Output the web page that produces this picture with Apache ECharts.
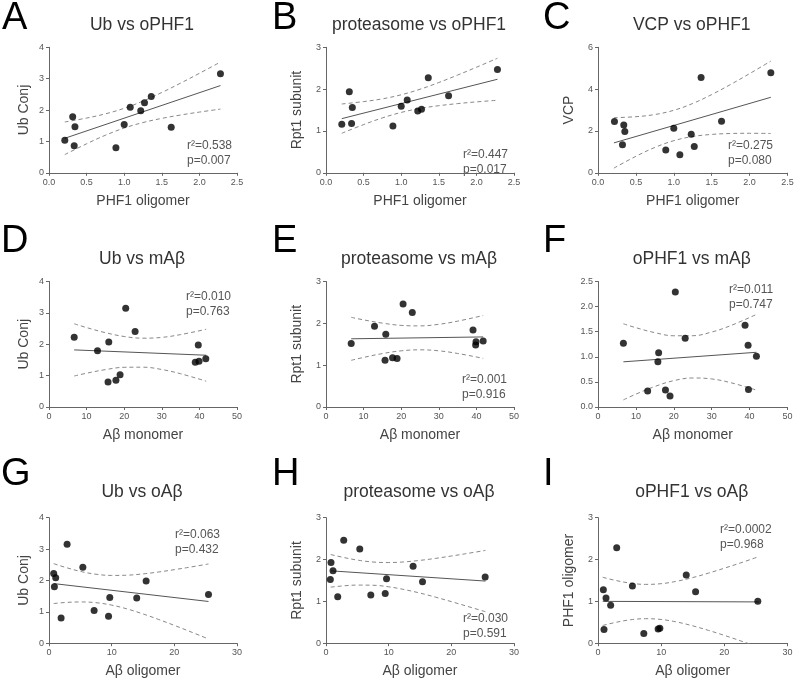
<!DOCTYPE html>
<html>
<head>
<meta charset="utf-8">
<script src="https://cdn.jsdelivr.net/npm/echarts@6/dist/echarts.min.js"></script>
<style>html,body{margin:0;padding:0;background:#fff}#chart{width:800px;height:683px}</style>
</head>
<body>
<div id="chart"></div>
<script>
// ---- Panel A: Ub vs oPHF1 ----
const A_x = [0.21,0.315,0.335,0.345,0.89,1.00,1.08,1.22,1.27,1.36,1.625,2.28];
const A_y = [1.04,1.79,0.86,1.47,0.80,1.54,2.09,1.98,2.23,2.43,1.45,3.16];
const A_fitX = [0.21,2.28];
const A_fitY = [1.10,2.78];
const row1_bandX = [0.21,0.5,0.75,1.0,1.25,1.5,1.75,2.0,2.28];
const A_upper = [1.62,1.745,1.879,2.056,2.286,2.56,2.858,3.171,3.529];
const A_lower = [0.58,0.925,1.197,1.426,1.602,1.734,1.842,1.935,2.031];
// ---- Panel B: proteasome vs oPHF1 ----
const B_x = [0.21,0.31,0.34,0.35,0.89,1.00,1.08,1.22,1.27,1.36,1.63,2.28];
const B_y = [1.16,1.94,1.18,1.56,1.12,1.59,1.74,1.48,1.52,2.27,1.84,2.47];
const B_fitX = [0.21,2.28];
const B_fitY = [1.295,2.236];
const B_upper = [1.645,1.702,1.768,1.865,1.997,2.158,2.336,2.523,2.738];
const B_lower = [0.945,1.152,1.312,1.443,1.539,1.604,1.654,1.695,1.734];
// ---- Panel C: VCP vs oPHF1 ----
const C_x = [0.217,0.34,0.354,0.323,0.894,1.00,1.08,1.23,1.27,1.36,1.63,2.28];
const C_y = [2.45,2.29,1.98,1.34,1.09,2.13,0.86,1.84,1.26,4.56,2.46,4.78];
const C_fitX = [0.21,2.28];
const C_fitY = [1.43,3.61];
const C_upper = [2.635,2.682,2.786,2.989,3.315,3.741,4.225,4.741,5.34];
const C_lower = [0.225,0.788,1.212,1.535,1.735,1.835,1.879,1.889,1.88];
// ---- Panel D: Ub vs mAβ ----
const D_x = [6.7,12.9,15.9,15.7,17.8,18.9,20.4,22.9,39.7,38.9,39.9,41.7];
const D_y = [2.22,1.79,2.07,0.80,0.85,1.03,3.15,2.41,1.98,1.43,1.46,1.54];
const D_fitX = [6.7,41.8];
const D_fitY = [1.82,1.65];
const row2_bandX = [6.7,10,15,20,25,30,35,41.8];
const D_upper = [2.652,2.531,2.369,2.247,2.193,2.219,2.308,2.477];
const D_lower = [0.988,1.077,1.191,1.265,1.269,1.195,1.060,0.823];
// ---- Panel E: proteasome vs mAβ ----
const E_x = [6.7,12.9,15.9,15.7,17.7,18.9,20.5,22.95,39.1,39.8,39.9,41.8];
const E_y = [1.52,1.93,1.74,1.12,1.18,1.16,2.46,2.26,1.84,1.48,1.56,1.58];
const E_fitX = [6.7,41.8];
const E_fitY = [1.63,1.675];
const E_upper = [2.144,2.083,2.005,1.951,1.939,1.977,2.052,2.187];
const E_lower = [1.116,1.185,1.277,1.343,1.367,1.343,1.280,1.163];
// ---- Panel F: oPHF1 vs mAβ ----
const F_x = [6.7,13.1,16.0,15.8,17.8,19.0,20.4,23.0,38.8,39.6,39.7,41.8];
const F_y = [1.27,0.32,1.08,0.90,0.34,0.22,2.29,1.37,1.63,1.23,0.35,1.01];
const F_fitX = [6.7,41.8];
const F_fitY = [0.90,1.09];
const F_upper = [1.658,1.580,1.481,1.419,1.420,1.493,1.621,1.844];
const F_lower = [0.142,0.256,0.409,0.525,0.578,0.559,0.485,0.336];
// ---- Panel G: Ub vs oAβ ----
const G_x = [0.75,1.07,0.86,1.93,2.89,5.4,7.2,9.5,9.7,14.0,15.5,25.45];
const G_y = [2.22,2.09,1.80,0.80,3.15,2.42,1.04,0.86,1.46,1.44,1.98,1.55];
const G_fitX = [0.75,25.45];
const G_fitY = [1.90,1.33];
const row3_bandX = [0.75,2.5,5,7.5,10,12.5,15,17.5,20,22.5,25.45];
const G_upper = [2.536,2.424,2.289,2.198,2.160,2.168,2.209,2.270,2.344,2.424,2.525];
const G_lower = [1.264,1.296,1.315,1.291,1.214,1.090,0.933,0.756,0.568,0.372,0.135];
// ---- Panel H: proteasome vs oAβ ----
const H_x = [0.69,0.80,1.12,1.87,2.83,5.39,7.15,9.45,9.66,13.9,15.4,25.4];
const H_y = [1.52,1.93,1.73,1.11,2.46,2.25,1.15,1.19,1.54,1.84,1.47,1.58];
const H_fitX = [0.75,25.45];
const H_fitY = [1.73,1.485];
const H_upper = [2.120,2.059,1.987,1.941,1.928,1.944,1.980,2.028,2.084,2.144,2.218];
const H_lower = [1.340,1.367,1.389,1.385,1.348,1.282,1.198,1.100,0.994,0.884,0.752];
// ---- Panel I: oPHF1 vs oAβ ----
const I_x = [0.85,1.27,2.0,0.95,2.96,5.45,7.25,9.52,9.79,13.97,15.45,25.3];
const I_y = [1.28,1.08,0.91,0.33,2.28,1.37,0.23,0.34,0.36,1.63,1.23,1.00];
const I_fitX = [0.75,25.45];
const I_fitY = [1.00,0.987];
const I_upper = [1.576,1.510,1.439,1.406,1.423,1.482,1.569,1.676,1.793,1.916,2.069];
const I_lower = [0.424,0.488,0.557,0.586,0.567,0.506,0.415,0.306,0.187,0.060,-0.095];

// ---- labels ----
const letters = ['A','B','C','D','E','F','G','H','I'];
const titles = ['Ub vs oPHF1','proteasome vs oPHF1','VCP vs oPHF1','Ub vs mAβ','proteasome vs mAβ','oPHF1 vs mAβ','Ub vs oAβ','proteasome vs oAβ','oPHF1 vs oAβ'];
const xNames = ['PHF1 oligomer','PHF1 oligomer','PHF1 oligomer','Aβ monomer','Aβ monomer','Aβ monomer','Aβ oligomer','Aβ oligomer','Aβ oligomer'];
const yNames = ['Ub Conj','Rpt1 subunit','VCP','Ub Conj','Rpt1 subunit','','Ub Conj','Rpt1 subunit','PHF1 oligomer'];
const rsq = ['r²=0.538','r²=0.447','r²=0.275','r²=0.010','r²=0.001','r²=0.011','r²=0.063','r²=0.030','r²=0.0002'];
const pvals = ['p=0.007','p=0.017','p=0.080','p=0.763','p=0.916','p=0.747','p=0.432','p=0.591','p=0.968'];
const xMax = [2.5,2.5,2.5,50,50,50,30,30,30];
const xInterval = [0.5,0.5,0.5,10,10,10,10,10,10];
const yMax = [4,3,6,4,3,2.5,4,3,3];
const yInterval = [1,1,2,1,1,0.5,1,1,1];

const panels = [
  [A_x,A_y,A_fitX,A_fitY,row1_bandX,A_upper,A_lower],
  [B_x,B_y,B_fitX,B_fitY,row1_bandX,B_upper,B_lower],
  [C_x,C_y,C_fitX,C_fitY,row1_bandX,C_upper,C_lower],
  [D_x,D_y,D_fitX,D_fitY,row2_bandX,D_upper,D_lower],
  [E_x,E_y,E_fitX,E_fitY,row2_bandX,E_upper,E_lower],
  [F_x,F_y,F_fitX,F_fitY,row2_bandX,F_upper,F_lower],
  [G_x,G_y,G_fitX,G_fitY,row3_bandX,G_upper,G_lower],
  [H_x,H_y,H_fitX,H_fitY,row3_bandX,H_upper,H_lower],
  [I_x,I_y,I_fitX,I_fitY,row3_bandX,I_upper,I_lower]
];

// ---- layout ----
const FONT = 'Liberation Sans, Arial, Helvetica, sans-serif';
const colLeft = [49, 326, 598];
const colWidth = [188, 188, 189.5];
const rowTop = [47.3, 281.5, 517.7];
const gridH = 125.5;
const yNameGap = [17.5, 22, 22];
const letterPos = [[2,19],[272,19],[543,19],[1,242],[272,242],[543,242],[1,474.5],[272,474.5],[543,474.5]];
const titleY = [25, 259.5, 492.5];
const annot = [[187,145.7],[463,155],[728,145.7],[186,297],[462,379.7],[729,289.7],[175,535],[463,618.3],[720,530]];

const zip = (xs, ys) => xs.map((v, i) => [v, ys[i]]);
const AXC = '#666';
const LBL = '#555';

const grids = [], xAxes = [], yAxes = [], series = [], graphics = [];
for (let i = 0; i < 9; i++) {
  const c = i % 3, r = Math.floor(i / 3);
  grids.push({left: colLeft[c], top: rowTop[r], width: colWidth[c], height: gridH, containLabel: false});
  const dec = (xInterval[i] < 1) ? 1 : 0;
  xAxes.push({
    type: 'value', gridIndex: i, min: 0, max: xMax[i], interval: xInterval[i],
    name: xNames[i], nameLocation: 'middle', nameGap: 21,
    nameTextStyle: {fontFamily: FONT, fontSize: 14, color: '#444'},
    axisLine: {show: true, lineStyle: {color: AXC, width: 1}},
    axisTick: {show: true, length: 3, lineStyle: {color: AXC}},
    axisLabel: {fontFamily: FONT, fontSize: 9, color: LBL, margin: 5, formatter: v => v.toFixed(dec)},
    splitLine: {show: false}
  });
  const ydec = (yInterval[i] < 1) ? 1 : 0;
  yAxes.push({
    type: 'value', gridIndex: i, min: 0, max: yMax[i], interval: yInterval[i],
    name: yNames[i], nameLocation: 'middle', nameGap: yNameGap[c], nameRotate: 90,
    nameTextStyle: {fontFamily: FONT, fontSize: 14, color: '#444'},
    axisLine: {show: true, lineStyle: {color: AXC, width: 1}},
    axisTick: {show: true, length: 3, lineStyle: {color: AXC}},
    axisLabel: {fontFamily: FONT, fontSize: 9, color: LBL, margin: 5, formatter: v => v.toFixed(ydec)},
    splitLine: {show: false}
  });
  const p = panels[i];
  const common = {xAxisIndex: i, yAxisIndex: i, symbol: 'none', silent: true, animation: false};
  series.push(Object.assign({type: 'line', data: zip(p[4], p[5]), smooth: 0.4,
    lineStyle: {color: '#888', width: 1, type: [4, 3]}, z: 2}, common));
  series.push(Object.assign({type: 'line', data: zip(p[4], p[6]), smooth: 0.4,
    lineStyle: {color: '#888', width: 1, type: [4, 3]}, z: 2}, common));
  series.push(Object.assign({type: 'line', data: zip(p[2], p[3]),
    lineStyle: {color: '#555', width: 1}, z: 3}, common));
  series.push({type: 'scatter', xAxisIndex: i, yAxisIndex: i, data: zip(p[0], p[1]),
    symbol: 'circle', symbolSize: 7, itemStyle: {color: '#000'}, z: 5, animation: false, silent: true});

  graphics.push({type: 'text', x: letterPos[i][0], y: letterPos[i][1],
    style: {text: letters[i], font: 'normal 38px ' + FONT, fill: '#000', align: 'left', verticalAlign: 'middle'}});
  graphics.push({type: 'text', x: colLeft[c] + colWidth[c] / 2 - 1, y: titleY[r],
    style: {text: titles[i], font: 'normal 17.5px ' + FONT, fill: '#333', align: 'center', verticalAlign: 'middle'}});
  graphics.push({type: 'text', x: annot[i][0], y: annot[i][1],
    style: {text: rsq[i], font: 'normal 12px ' + FONT, fill: '#555', align: 'left', verticalAlign: 'middle'}});
  graphics.push({type: 'text', x: annot[i][0], y: annot[i][1] + 15,
    style: {text: pvals[i], font: 'normal 12px ' + FONT, fill: '#555', align: 'left', verticalAlign: 'middle'}});
}

const chart = echarts.init(document.getElementById('chart'), null, {renderer: 'canvas'});
chart.setOption({
  backgroundColor: '#fff',
  animation: false,
  grid: grids, xAxis: xAxes, yAxis: yAxes, series: series, graphic: graphics
});
</script>
</body>
</html>
